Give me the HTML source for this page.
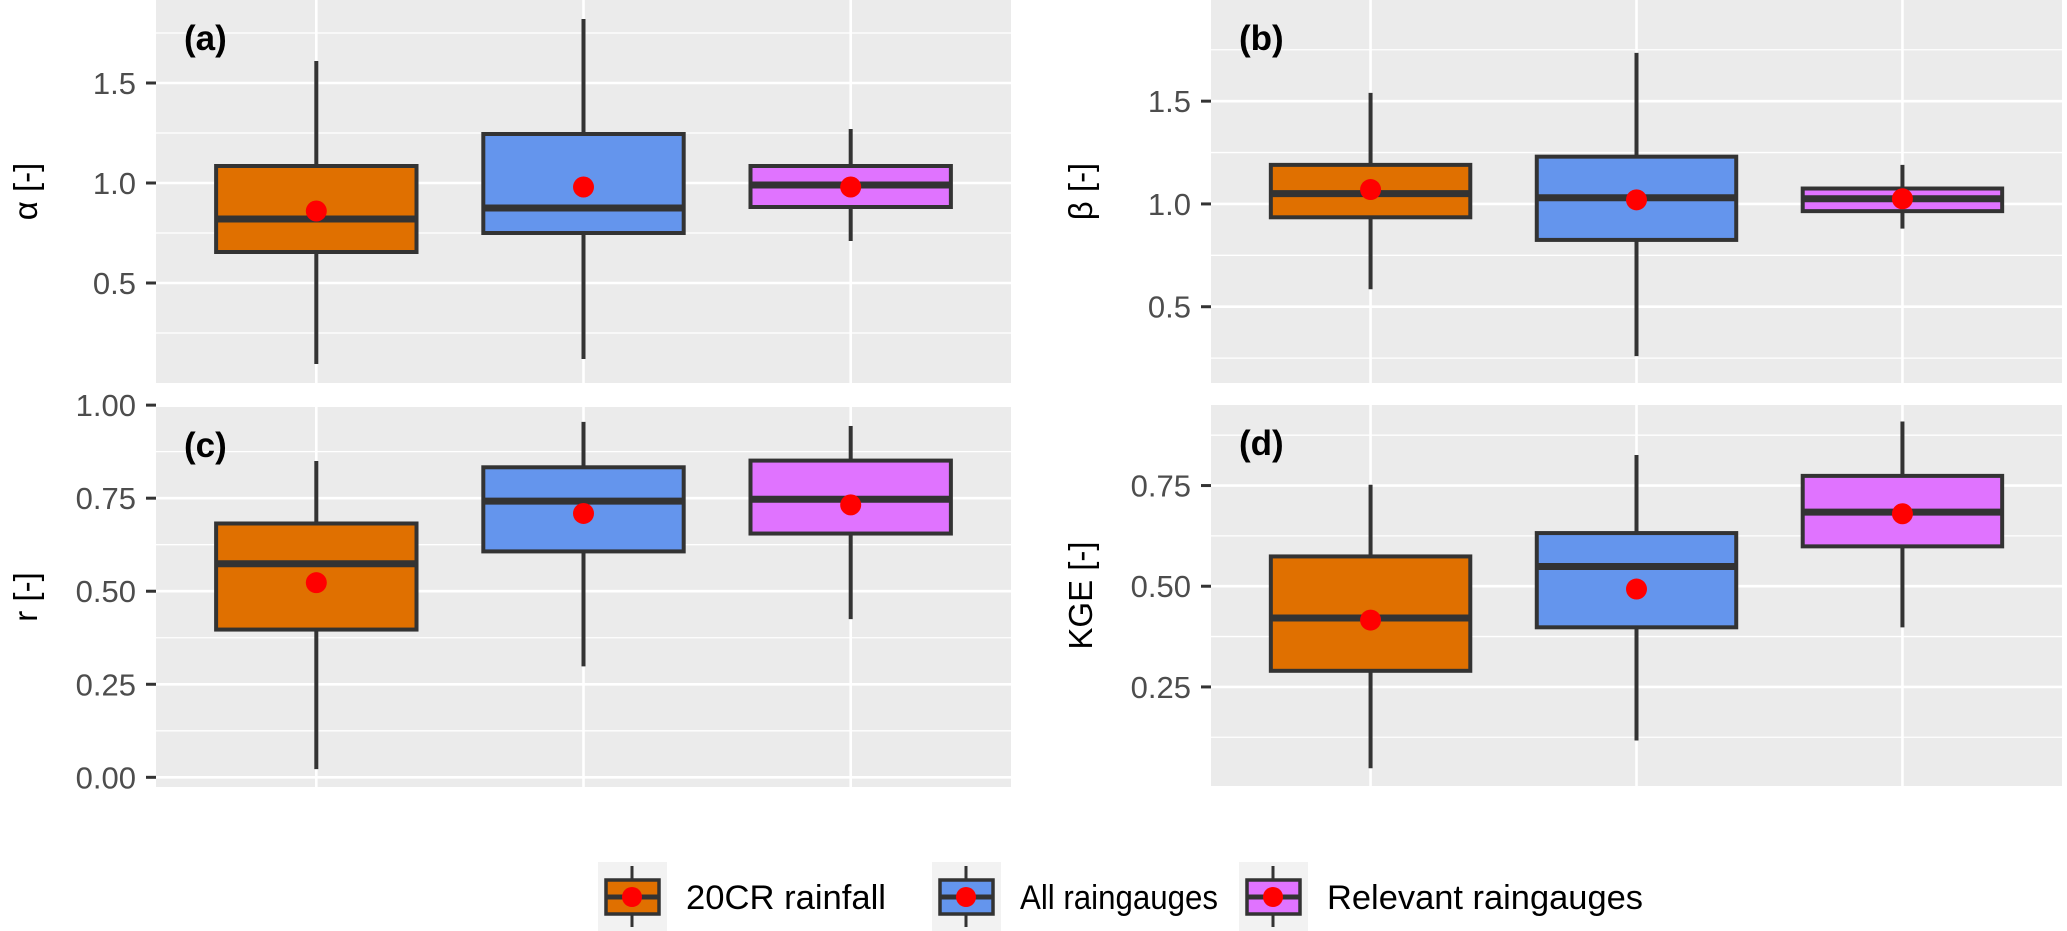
<!DOCTYPE html>
<html><head><meta charset="utf-8"><style>
html,body{margin:0;padding:0;background:#fff;}
svg{display:block;font-family:"Liberation Sans",sans-serif;}
</style></head><body>
<svg id="chart" width="2067" height="931" viewBox="0 0 2067 931" xmlns="http://www.w3.org/2000/svg"></svg>
<script>
const categories = ["20CR rainfall", "All raingauges", "Relevant raingauges"];
const fills = ["#E07000", "#6495ED", "#E073FF"];
// [lower whisker, q1, median, q3, upper whisker, mean]
const alphaStats = [[0.095,0.655,0.82,1.085,1.61,0.86],[0.12,0.75,0.875,1.245,1.82,0.98],[0.71,0.88,0.99,1.085,1.27,0.98]];
const betaStats = [[0.585,0.935,1.05,1.19,1.54,1.07],[0.26,0.825,1.03,1.23,1.735,1.02],[0.88,0.965,1.025,1.075,1.19,1.025]];
const rStats = [[0.022,0.397,0.574,0.682,0.85,0.523],[0.298,0.607,0.742,0.833,0.955,0.709],[0.425,0.655,0.747,0.851,0.944,0.732]];
const kgeStats = [[0.048,0.29,0.421,0.574,0.752,0.416],[0.117,0.398,0.549,0.632,0.826,0.493],[0.398,0.599,0.684,0.774,0.909,0.68]];
const alphaTicks = [0.5,1.0,1.5];
const alphaMinor = [0.25,0.75,1.25,1.75];
const betaTicks = [0.5,1.0,1.5];
const betaMinor = [0.25,0.75,1.25,1.75];
const rTicks = [0.00,0.25,0.50,0.75,1.00];
const rMinor = [0.125,0.375,0.625,0.875];
const kgeTicks = [0.25,0.50,0.75];
const kgeMinor = [0.125,0.375,0.625,0.875];

const NS="http://www.w3.org/2000/svg";
const svg=document.getElementById('chart');
function mk(tag,attrs,parent){const e=document.createElementNS(NS,tag);for(const k in attrs)e.setAttribute(k,attrs[k]);(parent||svg).appendChild(e);return e;}

const panels=[
 {id:'a',label:'(a)',title:'α [-]',stats:alphaStats,ticks:alphaTicks,minor:alphaMinor,dec:1,x0:156,x1:1011,y0:0,y1:383,v0:0.0,v1:1.915,titleX:25},
 {id:'b',label:'(b)',title:'β [-]',stats:betaStats,ticks:betaTicks,minor:betaMinor,dec:1,x0:1211,x1:2062,y0:0,y1:383,v0:0.129,v1:1.992,titleX:1080},
 {id:'c',label:'(c)',title:'r [-]',stats:rStats,ticks:rTicks,minor:rMinor,dec:2,x0:156,x1:1011,y0:407,y1:787,v0:-0.026,v1:0.995,titleX:25},
 {id:'d',label:'(d)',title:'KGE [-]',stats:kgeStats,ticks:kgeTicks,minor:kgeMinor,dec:2,x0:1211,x1:2062,y0:405,y1:786,v0:0.004,v1:0.950,titleX:1080}
];

panels.forEach(p=>{
  const g=mk('g',{});
  
  
  const y=v=>p.y1-(v-p.v0)/(p.v1-p.v0)*(p.y1-p.y0);
  const unit=(p.x1-p.x0)/3.2;
  const x=i=>p.x0+unit*(0.6+i);
  const bg=mk('rect',{x:p.x0,y:p.y0,width:p.x1-p.x0,height:p.y1-p.y0,fill:'#EBEBEB'},g);
  
  
  p.minor.forEach(v=>{const yy=y(v);if(yy>p.y0&&yy<p.y1){const l=mk('line',{x1:p.x0,x2:p.x1,y1:yy,y2:yy,stroke:'#fff','stroke-width':1.3},g);}});
  p.ticks.forEach(v=>{const yy=y(v);
    const l=mk('line',{x1:p.x0,x2:p.x1,y1:yy,y2:yy,stroke:'#fff','stroke-width':2.6},g);
    
    
    const t=mk('line',{x1:p.x0-10,x2:p.x0,y1:yy,y2:yy,stroke:'#333','stroke-width':3},g);
    
    
    const tx=mk('text',{x:p.x0-20,y:yy+11,'text-anchor':'end','font-size':31,fill:'#4D4D4D'},g);
    tx.textContent=v.toFixed(p.dec);
    
    
  });
  categories.forEach((c,i)=>{const l=mk('line',{x1:x(i),x2:x(i),y1:p.y0,y2:p.y1,stroke:'#fff','stroke-width':2.6},g);});
  p.stats.forEach((s,i)=>{
    const bx=mk('g',{},g);
    
    
    const cx=x(i),hw=unit*0.375;
    mk('line',{x1:cx,x2:cx,y1:y(s[0]),y2:y(s[1]),stroke:'#333','stroke-width':4},bx);
    mk('line',{x1:cx,x2:cx,y1:y(s[3]),y2:y(s[4]),stroke:'#333','stroke-width':4},bx);
    mk('rect',{x:cx-hw,y:y(s[3]),width:2*hw,height:y(s[1])-y(s[3]),fill:fills[i],stroke:'#333','stroke-width':4},bx);
    mk('line',{x1:cx-hw,x2:cx+hw,y1:y(s[2]),y2:y(s[2]),stroke:'#333','stroke-width':7},bx);
    const m=mk('circle',{cx:cx,cy:y(s[5]),r:10.5,fill:'#FF0000'},bx);
    
    
  });
  const lb=mk('text',{x:p.x0+28,y:p.y0+50,'font-size':35,'font-weight':'bold',fill:'#000'},g);
  lb.textContent=p.label;
  
  
  const cy=(p.y0+p.y1)/2;
  const tt=mk('text',{x:p.titleX+12,y:cy,'font-size':33,fill:'#000','text-anchor':'middle',transform:'rotate(-90 '+(p.titleX+12)+' '+cy+')'},g);
  tt.textContent=p.title;
  
  
});

// legend
const legX=[598,932,1239];
const legTextW=[200,198,316];
const leg=mk('g',{});


categories.forEach((c,i)=>{
  const e=mk('g',{},leg);
  
  
  const kx=legX[i],cx=kx+34;
  mk('rect',{x:kx,y:862,width:69,height:69,fill:'#F2F2F2'},e);
  mk('line',{x1:cx,x2:cx,y1:866,y2:927,stroke:'#333','stroke-width':3},e);
  mk('rect',{x:kx+8,y:880,width:53,height:34,fill:fills[i],stroke:'#333','stroke-width':3.5},e);
  mk('line',{x1:kx+8,x2:kx+61,y1:897,y2:897,stroke:'#333','stroke-width':5},e);
  mk('circle',{cx:cx,cy:897,r:10,fill:'#FF0000'},e);
  const t=mk('text',{x:kx+88,y:909,'font-size':34,fill:'#000',textLength:legTextW[i],lengthAdjust:'spacingAndGlyphs'},e);
  t.textContent=c;
});
</script>
</body></html>
